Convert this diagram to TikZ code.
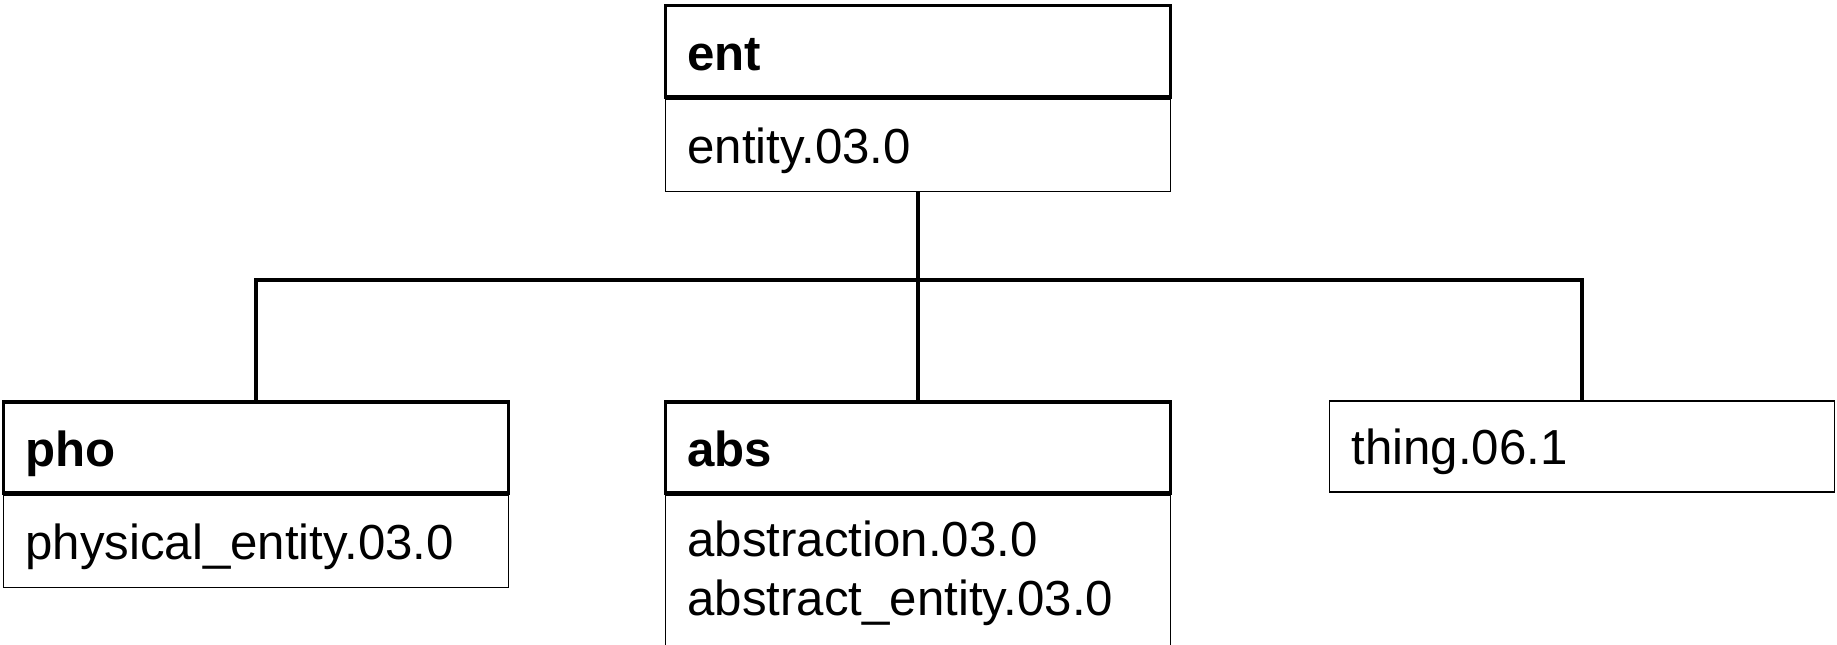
\documentclass[tikz,border=0pt]{standalone}
\usepackage{fontspec}
\setmainfont{Liberation Sans}
\usetikzlibrary{positioning}

\tikzset{
  headbox/.style={draw, line width=1pt, anchor=north, text width=4.61cm,
    inner xsep=0.22cm, inner ysep=0pt, minimum height=0.91cm, align=left,
    font=\fontsize{14}{16.8}\selectfont\bfseries, text height=11pt, text depth=0pt},
  bodybox/.style={draw, line width=0.5pt, anchor=north, text width=4.61cm,
    inner xsep=0.22cm, inner ysep=0pt, minimum height=0.92cm, align=left,
    font=\fontsize{14}{16.8}\selectfont, text height=10.5pt, text depth=0pt},
  link/.style={line width=0.9pt},
}

\begin{document}
\begin{tikzpicture}
\useasboundingbox (0,0) rectangle (18.37,-6.45);

% root
\node[headbox] (enthead) at (9.18,-0.04) {ent};
\node[bodybox, below=0pt of enthead] (entbody) {entity.03.0};

% children
\node[headbox] (phohead) at (2.56,-4.0) {pho};
\node[bodybox, below=0pt of phohead] (phobody) {physical\_entity.03.0};
\node[headbox] (abshead) at (9.18,-4.0) {abs};
\node[bodybox, below=0pt of abshead, minimum height=1.53cm, text depth=19pt] (absbody)
  {abstraction.03.0\\abstract\_entity.03.0};
\node[bodybox, minimum height=0.91cm] (thing) at (15.82,-4.0) {thing.06.1};

% tree lines
\coordinate (fork) at (9.18,-2.80);
\draw[link] (entbody.south) -- (abshead.north);
\draw[link] (phohead.north) |- (fork) -| (thing.north);
\end{tikzpicture}
\end{document}
